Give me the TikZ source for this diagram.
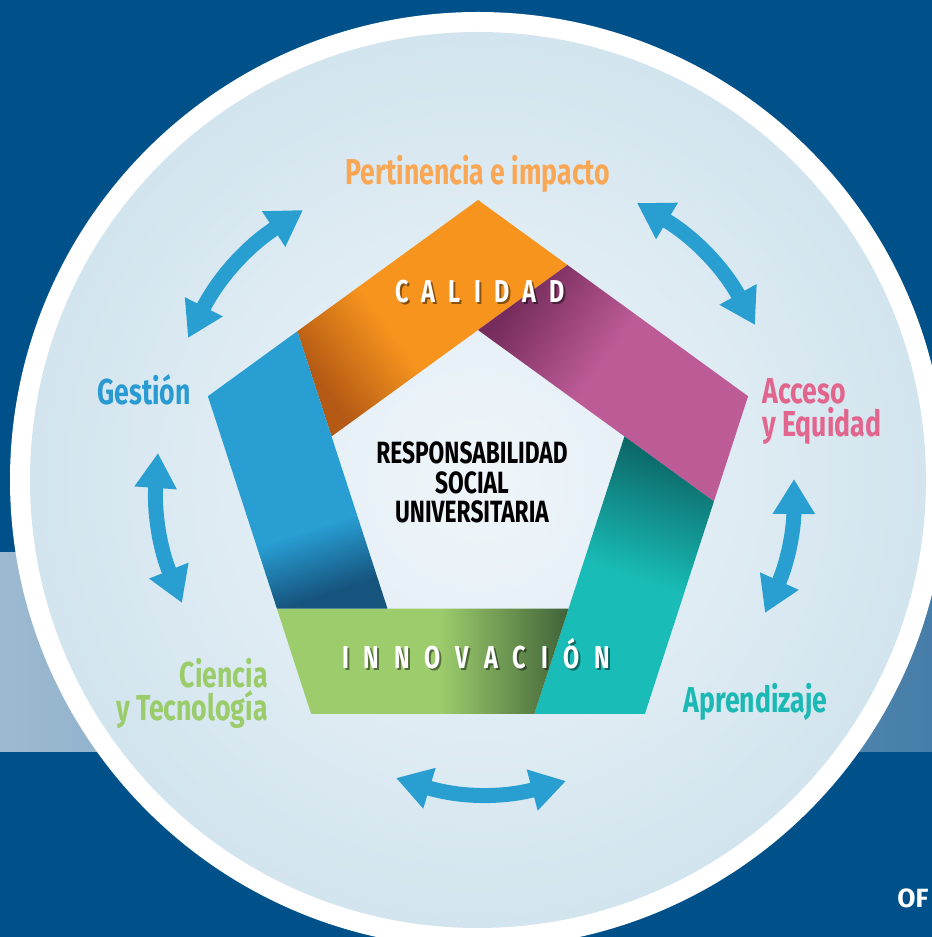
\documentclass[tikz,border=0pt]{standalone}
\usepackage{fontspec}
\usepackage{tikz}
\usetikzlibrary{calc}
\usetikzlibrary{arrows.meta}
\usetikzlibrary{positioning}
\newfontfamily\dinfont[FakeStretch=0.74]{Fira Sans}
\newfontfamily\ofont{Fira Sans}
\definecolor{bgblue}{RGB}{0,81,137}
\definecolor{bandlight}{RGB}{156,186,209}
\definecolor{banddark}{RGB}{70,126,169}
\definecolor{disclight}{RGB}{240,246,250}
\definecolor{discedge}{RGB}{210,228,238}
\definecolor{arrowblue}{RGB}{40,158,209}
\definecolor{orgmain}{RGB}{247,148,30}
\definecolor{orgdark}{RGB}{180,90,20}
\definecolor{purmain}{RGB}{189,91,151}
\definecolor{purdark}{RGB}{118,44,92}
\definecolor{tealmain}{RGB}{25,188,182}
\definecolor{tealdark}{RGB}{12,104,104}
\definecolor{grnmain}{RGB}{156,204,108}
\definecolor{grndark}{RGB}{64,98,56}
\definecolor{blumain}{RGB}{40,158,211}
\definecolor{bludark}{RGB}{22,84,126}
\definecolor{pertorange}{RGB}{249,167,85}
\definecolor{gestblue}{RGB}{42,155,210}
\definecolor{accpink}{RGB}{226,101,141}
\definecolor{ciengreen}{RGB}{155,204,106}
\definecolor{aprteal}{RGB}{28,185,180}
\pgfdeclarehorizontalshading{orangeband}{100bp}{color(0bp)=(orgdark); color(25bp)=(orgdark); color(42bp)=(orgmain); color(100bp)=(orgmain)}
\pgfdeclarehorizontalshading{purpleband}{100bp}{color(0bp)=(purdark); color(25bp)=(purdark); color(46bp)=(purmain); color(100bp)=(purmain)}
\pgfdeclarehorizontalshading{tealband}{100bp}{color(0bp)=(tealdark); color(25bp)=(tealdark); color(50bp)=(tealmain); color(100bp)=(tealmain)}
\pgfdeclarehorizontalshading{greenband}{100bp}{color(0bp)=(grndark); color(25bp)=(grndark); color(47bp)=(grnmain); color(100bp)=(grnmain)}
\pgfdeclarehorizontalshading{blueband}{100bp}{color(0bp)=(bludark); color(25bp)=(bludark); color(38bp)=(blumain); color(100bp)=(blumain)}
\newcommand{\calsp}{\hspace{7.5pt}}
\newcommand{\innsp}{\hspace{8.5pt}}
\tikzstyle{outertext}=[font=\dinfont\bfseries\fontsize{20.5}{19}\selectfont, inner sep=0pt]
\tikzstyle{centertext}=[font=\dinfont\bfseries\fontsize{17.5}{17}\selectfont, inner sep=0pt, text=black]
\tikzstyle{bandtext}=[font=\dinfont\bfseries\fontsize{18}{18}\selectfont, inner sep=0pt, text=white]
\tikzstyle{bandshadow}=[bandtext, text=black, opacity=0.45]
\tikzstyle{biarrow}=[draw=arrowblue, line width=0.3cm, arrows={Triangle[width=0.8cm,length=0.7cm]-Triangle[width=0.8cm,length=0.7cm]}]

\begin{document}
\begin{tikzpicture}[x=0.02cm, y=0.02cm]
  \useasboundingbox (0,0) rectangle (932,937);
  \clip (0,0) rectangle (932,937);
  % background
  \fill[bgblue] (0,0) rectangle (932,937);
  \shade[left color=bandlight, right color=banddark] (0,185) rectangle (932,384);
  \fill[white] (478,457) circle[radius=468];
  \shade[inner color=disclight, outer color=discedge] (478,457) circle[radius=448];
  % pentagon
  \coordinate (ctr) at (478,453);
  \foreach \i/\a in {0/90,1/18,2/-54,3/-126,4/-198}{
    \coordinate (A\i) at ($(ctr)+(\a:284)$);
    \coordinate (B\i) at ($(ctr)+(\a:154)$);
  }
  \foreach \i/\j in {0/1,1/2,2/3,3/4,4/0}
    \coordinate (E\i) at ($(A\i)!0.3312!(A\j)$);
  \shade[shading=orangeband, shading angle=36] (E4) -- (A0) -- (E0) -- (B0) -- (B4) -- cycle;
  \shade[shading=purpleband, shading angle=-36] (E0) -- (A1) -- (E1) -- (B1) -- (B0) -- cycle;
  \shade[shading=tealband, shading angle=-108] (E1) -- (A2) -- (E2) -- (B2) -- (B1) -- cycle;
  \shade[shading=greenband, shading angle=180] (E2) -- (A3) -- (E3) -- (B3) -- (B2) -- cycle;
  \shade[shading=blueband, shading angle=108] (E3) -- (A4) -- (E4) -- (B4) -- (B3) -- cycle;
  % labels
  \node[outertext, text=pertorange, anchor=base] (pert) at (478,752) {Pertinencia e impacto};
  \node[outertext, text=gestblue, anchor=base] (gest) at (144,532) {Gestión};
  \node[outertext, text=accpink, anchor=north west, align=left] (acc) at (762,559) {Acceso\\y Equidad};
  \node[outertext, text=ciengreen, anchor=north east, align=right] (cien) at (268,279) {Ciencia\\y Tecnología};
  \node[outertext, text=aprteal, anchor=base] (apr) at (755.5,224) {Aprendizaje};
  \node[centertext, anchor=north, align=center] (rsu) at (472,496) {RESPONSABILIDAD\\SOCIAL\\UNIVERSITARIA};
  \node[bandshadow, anchor=base] (calshadow) at (482,632) {C\calsp A\calsp L\calsp I\calsp D\calsp A\calsp D};
  \node[bandtext, anchor=base] (cal) at (480,634) {C\calsp A\calsp L\calsp I\calsp D\calsp A\calsp D};
  \node[bandshadow, anchor=base] (innshadow) at (478,266.5) {I\innsp N\innsp N\innsp O\innsp V\innsp A\innsp C\innsp I\innsp Ó\innsp N};
  \node[bandtext, anchor=base] (inn) at (476,268.5) {I\innsp N\innsp N\innsp O\innsp V\innsp A\innsp C\innsp I\innsp Ó\innsp N};
  \node[font=\ofont\bfseries\fontsize{15}{15}\selectfont, text=white, anchor=base west, inner sep=0pt] (of) at (897,30) {OF};
  % arrows
  \coordinate (gp1) at (188,599);
  \coordinate (gp2) at (303,727);
  \coordinate (pa1) at (637,734);
  \coordinate (pa2) at (755,612);
  \coordinate (aa1) at (794,458);
  \coordinate (aa2) at (765,324);
  \coordinate (ai1) at (566,156);
  \coordinate (ai2) at (396,159);
  \coordinate (cg1) at (182,334);
  \coordinate (cg2) at (158,484);
  \draw[biarrow] (gp1) to[bend left=15] (gp2);
  \draw[biarrow] (pa1) to[bend left=15] (pa2);
  \draw[biarrow] (aa1) to[bend left=12] (aa2);
  \draw[biarrow] (ai1) to[bend left=16] (ai2);
  \draw[biarrow] (cg1) to[bend left=13] (cg2);
\end{tikzpicture}
\end{document}
